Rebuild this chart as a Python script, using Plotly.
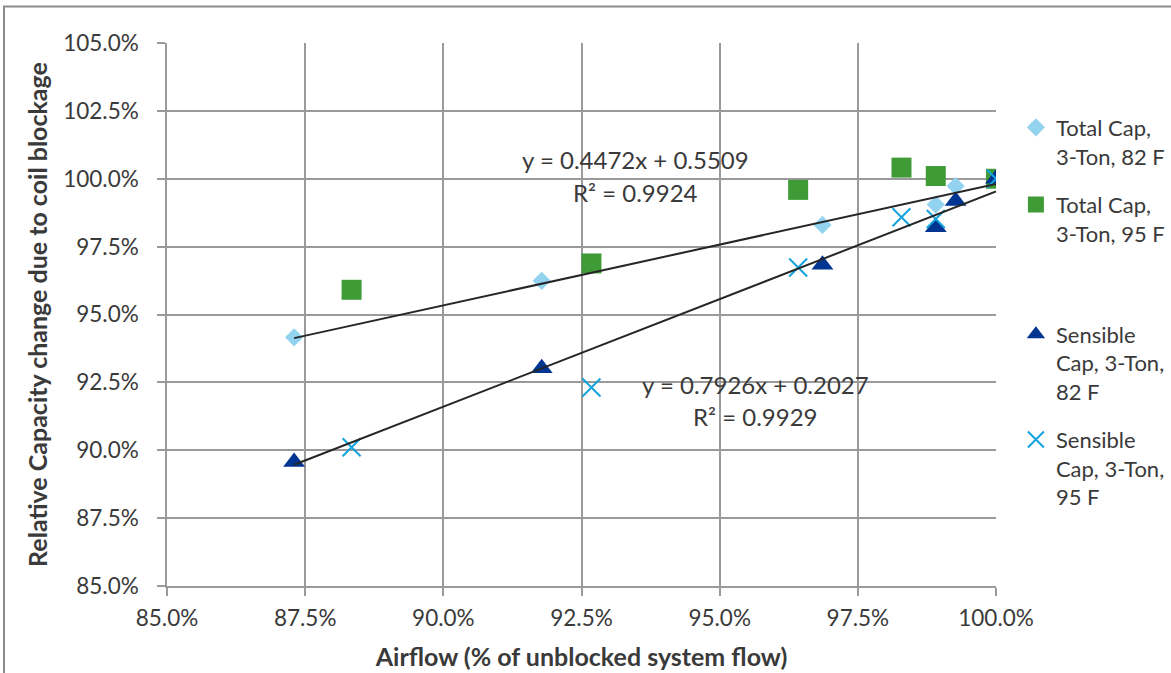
import plotly.graph_objects as go

# ---- data (fractions; axes show percent) ----
airflow_82 = [0.873, 0.9178, 0.9686, 0.9891, 0.9927, 1.0]
airflow_95 = [0.8834, 0.9268, 0.9642, 0.9829, 0.9891, 1.0]
total_cap_82 = [0.9416, 0.9624, 0.9830, 0.9905, 0.9973, 1.0]
total_cap_95 = [0.9591, 0.9688, 0.9959, 1.0041, 1.0010, 1.0]
sens_cap_82 = [0.8957, 0.9302, 0.9683, 0.9821, 0.9918, 1.0]
sens_cap_95 = [0.9011, 0.9231, 0.9673, 0.9858, 0.9852, 1.0]

series_names = ["Total Cap,<br>3-Ton, 82 F", "Total Cap,<br>3-Ton, 95 F",
                "Sensible<br>Cap, 3-Ton,<br>82 F", "Sensible<br>Cap, 3-Ton,<br>95 F"]

# trendlines (Excel linear fits as labelled)
trend_total_82 = {"slope": 0.4472, "intercept": 0.5509, "r2": 0.9924}
trend_sens_82 = {"slope": 0.7926, "intercept": 0.2027, "r2": 0.9929}

x_ticks = [0.85, 0.875, 0.90, 0.925, 0.95, 0.975, 1.0]
y_ticks = [0.85, 0.875, 0.90, 0.925, 0.95, 0.975, 1.0, 1.025, 1.05]

FONT = "Lato"
TXT = "#3a3a3a"
GRID = "#9a9a9a"

fig = go.Figure()

fig.add_trace(go.Scatter(x=airflow_82, y=total_cap_82, mode="markers", name=series_names[0],
                         marker=dict(symbol="diamond", size=14, color="#93d3f0"), legend="legend"))
fig.add_trace(go.Scatter(x=airflow_95, y=total_cap_95, mode="markers", name=series_names[1],
                         marker=dict(symbol="square", size=20, color="#3f9b35"), legend="legend2"))
fig.add_trace(go.Scatter(x=airflow_82, y=sens_cap_82, mode="markers", name=series_names[2],
                         marker=dict(symbol="triangle-up", size=19, color="#003591"), legend="legend3"))
fig.add_trace(go.Scatter(x=airflow_95, y=sens_cap_95, mode="markers", name=series_names[3],
                         marker=dict(symbol="x-thin", size=18, color="#14a3dc",
                                     line=dict(width=2, color="#14a3dc")), legend="legend4"))

for tr, xs in ((trend_total_82, airflow_82), (trend_sens_82, airflow_82)):
    xr = [min(xs), max(xs)]
    fig.add_trace(go.Scatter(x=xr, y=[tr["slope"] * v + tr["intercept"] for v in xr],
                             mode="lines", line=dict(color="#262626", width=2),
                             showlegend=False, hoverinfo="skip"))

ann_font = dict(family=FONT, size=24, color=TXT)
fig.add_annotation(x=0.9348, y=1.0072, xref="x", yref="y", showarrow=False,
                   text=f"y = {trend_total_82['slope']}x + {trend_total_82['intercept']}", font=ann_font)
fig.add_annotation(x=0.9348, y=0.9948, xref="x", yref="y", showarrow=False,
                   text=f"R² = {trend_total_82['r2']}", font=ann_font)
fig.add_annotation(x=0.9565, y=0.9241, xref="x", yref="y", showarrow=False,
                   text=f"y = {trend_sens_82['slope']}x + {trend_sens_82['intercept']}", font=ann_font)
fig.add_annotation(x=0.9565, y=0.9123, xref="x", yref="y", showarrow=False,
                   text=f"R² = {trend_sens_82['r2']}", font=ann_font)

# outer chart border
fig.add_shape(type="rect", xref="paper", yref="paper", x0=-0.1966, x1=1.23, y0=-0.2, y1=1.0672,
              line=dict(color="#8c8c8c", width=2), fillcolor="rgba(0,0,0,0)", layer="below")

axis_common = dict(showgrid=True, gridcolor=GRID, gridwidth=1.5, showline=True, linecolor=GRID,
                   linewidth=1.5, ticks="outside", ticklen=8, tickcolor=GRID, tickwidth=1.5,
                   tickformat=".1%", zeroline=False, automargin=False,
                   tickfont=dict(family=FONT, size=22.5, color=TXT))

fig.update_xaxes(range=[0.85, 1.0], tickvals=x_ticks, ticklabelstandoff=3, **axis_common,
                 title=dict(text="<b>Airflow (% of unblocked system flow)</b>",
                            font=dict(family=FONT, size=25, color=TXT), standoff=19))
fig.update_yaxes(range=[0.85, 1.05], tickvals=y_ticks, ticklabelstandoff=14, **axis_common,
                 title=dict(text="<b>Relative Capacity change due to coil blockage</b>",
                            font=dict(family=FONT, size=25, color=TXT), standoff=8))

leg_common = dict(x=1.024, xanchor="left", yanchor="top", valign="top", itemwidth=30,
                  font=dict(family=FONT, size=22, color=TXT), bgcolor="rgba(0,0,0,0)",
                  borderwidth=0, tracegroupgap=0)
fig.update_layout(
    width=1171, height=673,
    margin=dict(l=167, r=175, t=43, b=87, autoexpand=False),
    paper_bgcolor="white", plot_bgcolor="white",
    showlegend=True,
    legend=dict(y=0.883, **leg_common),
    legend2=dict(y=0.741, **leg_common),
    legend3=dict(y=0.502, **leg_common),
    legend4=dict(y=0.308, **leg_common),
)

fig.write_html("out.html", config={"displayModeBar": False},
               post_script="document.body.style.margin='0';document.body.style.overflow='hidden';")
